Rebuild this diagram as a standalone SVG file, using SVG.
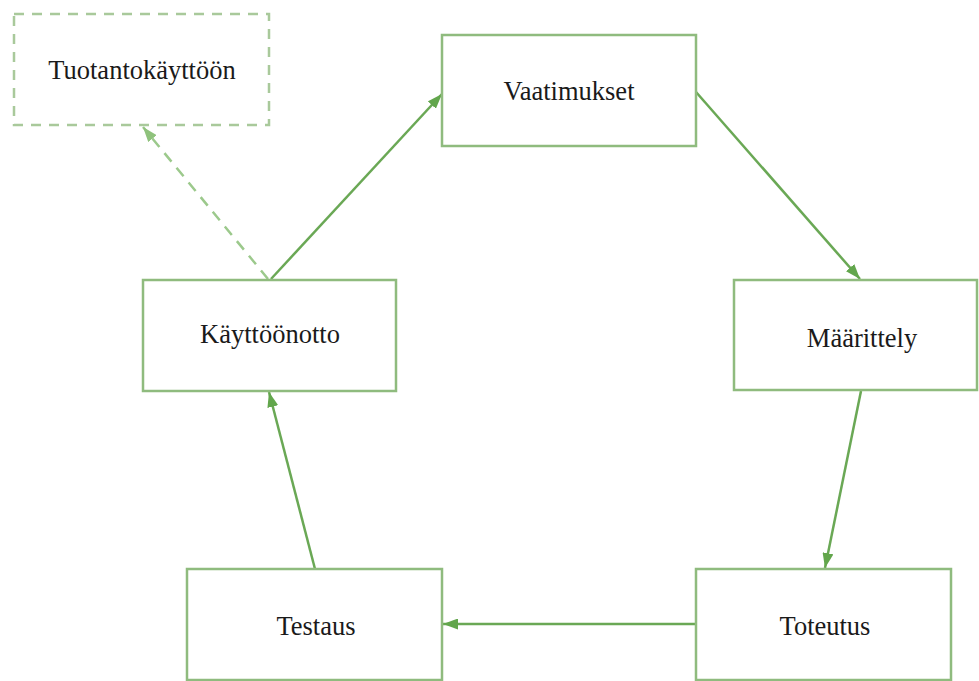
<svg xmlns="http://www.w3.org/2000/svg" width="979" height="681" viewBox="0 0 979 681">
  <defs>
    <marker id="arrow" viewBox="0 0 15 11" refX="15" refY="5.5" markerWidth="15" markerHeight="11" markerUnits="userSpaceOnUse" orient="auto">
      <path d="M0,0 L15,5.5 L0,11 z" fill="#62a64c"/>
    </marker>
    <marker id="arrow-light" viewBox="0 0 15 11" refX="15" refY="5.5" markerWidth="15" markerHeight="11" markerUnits="userSpaceOnUse" orient="auto">
      <path d="M0,0 L15,5.5 L0,11 z" fill="#8fc27c"/>
    </marker>
  </defs>
  <style>
    .box { fill: #ffffff; stroke: #8fbb7e; stroke-width: 2.5; }
    .box-dashed { fill: #ffffff; stroke: #a9c99b; stroke-width: 2.5; stroke-dasharray: 10 8; }
    .label { font-family: "Liberation Serif", "Times New Roman", serif; font-size: 26.5px; fill: #1a1a1a; text-anchor: middle; }
    .edge { fill: none; stroke: #6aa855; stroke-width: 2.5; marker-end: url(#arrow); }
    .edge-dashed { fill: none; stroke: #9cc98c; stroke-width: 2.5; stroke-dasharray: 11 8; marker-end: url(#arrow-light); }
  </style>
  <rect width="979" height="681" fill="#ffffff"/>

  <g id="connectors">
    <line class="edge-dashed" x1="268" y1="279" x2="143" y2="127"/>
    <line class="edge" x1="271" y1="279" x2="442" y2="94"/>
    <line class="edge" x1="696" y1="92" x2="860" y2="279"/>
    <line class="edge" x1="861" y1="391" x2="825" y2="568"/>
    <line class="edge" x1="696" y1="624" x2="443" y2="624"/>
    <line class="edge" x1="315" y1="569" x2="269" y2="392"/>
  </g>

  <g id="tuotantokayttoon">
    <rect class="box-dashed" x="14" y="14" width="255" height="111"/>
    <text class="label" x="142" y="79">Tuotantokäyttöön</text>
  </g>

  <g id="vaatimukset">
    <rect class="box" x="442" y="35" width="254" height="111"/>
    <text class="label" x="569" y="100">Vaatimukset</text>
  </g>

  <g id="maarittely">
    <rect class="box" x="734" y="280" width="243" height="110"/>
    <text class="label" x="862" y="347">Määrittely</text>
  </g>

  <g id="toteutus">
    <rect class="box" x="696" y="569" width="255" height="111"/>
    <text class="label" x="825" y="635">Toteutus</text>
  </g>

  <g id="testaus">
    <rect class="box" x="187" y="569" width="255" height="111"/>
    <text class="label" x="316" y="635">Testaus</text>
  </g>

  <g id="kayttoonotto">
    <rect class="box" x="143" y="280" width="253" height="111"/>
    <text class="label" x="270" y="343">Käyttöönotto</text>
  </g>
</svg>
